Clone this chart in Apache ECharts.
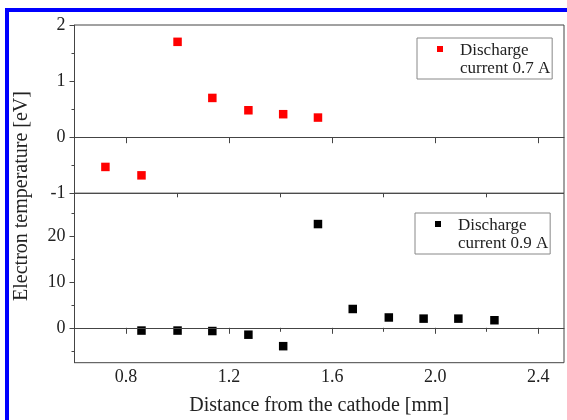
<!DOCTYPE html>
<html>
<head>
<meta charset="utf-8">
<script src="https://cdn.jsdelivr.net/npm/echarts@6/dist/echarts.min.js"></script>
<style>
  html, body { margin: 0; padding: 0; background: #fff; overflow: hidden; }
  #chart { position: absolute; left: 0; top: 0; width: 567px; height: 420px; }
  #frame { position: absolute; left: 5px; top: 8px; width: 700px; height: 700px;
           border-left: 4px solid #0000ff; border-top: 4px solid #0000ff; pointer-events: none; }
</style>
</head>
<body>
<div id="chart"></div>
<div id="frame"></div>
<script>
// ---- data ----
const xUpper = [0.72, 0.86, 1.00, 1.135, 1.275, 1.41, 1.545];
const yUpper = [-0.53, -0.68, 1.70, 0.70, 0.48, 0.41, 0.35];
const xLower = [0.86, 1.00, 1.135, 1.275, 1.41, 1.545, 1.68, 1.82, 1.955, 2.09, 2.23];
const yLower = [-0.6, -0.6, -0.7, -1.5, -4.0, 22.6, 4.1, 2.25, 2.0, 2.0, 1.65];

const xMajorTicks = [0.8, 1.2, 1.6, 2.0, 2.4];
const xMinorTicks = [1.0, 1.4, 1.8, 2.2];
const yLowerTicks = [0, 10, 20];
const yLowerMinorTicks = [-5, 5, 15, 25];

const nameUpper = 'Discharge\ncurrent 0.7 A';
const nameLower = 'Discharge\ncurrent 0.9 A';
const xTitle = 'Distance from the cathode [mm]';
const yTitle = 'Electron temperature [eV]';

const FONT = 'Liberation Serif';
const AX = '#444';
const TXT = '#222';

const chart = echarts.init(document.getElementById('chart'), null, { renderer: 'canvas' });

function xAxisMajor(grid, withLabels) {
  return {
    type: 'value', gridIndex: grid, position: 'bottom', min: 0.6, max: 2.5,
    axisLine: { show: true, lineStyle: { color: AX, width: 1 } },
    axisTick: { show: true, customValues: xMajorTicks, length: 6, inside: false, lineStyle: { color: AX } },
    axisLabel: withLabels ? {
      show: true, customValues: xMajorTicks, margin: 6,
      formatter: v => Number(v).toFixed(1),
      fontFamily: FONT, fontSize: 18, color: TXT
    } : { show: false },
    splitLine: { show: false },
    name: withLabels ? xTitle : '',
    nameLocation: 'middle', nameGap: 33,
    nameTextStyle: { fontFamily: FONT, fontSize: 20, color: TXT }
  };
}
function xAxisMinor(grid) {
  return {
    type: 'value', gridIndex: grid, position: 'bottom', offset: 0, min: 0.6, max: 2.5,
    axisLine: { show: false },
    axisTick: { show: true, customValues: xMinorTicks, length: 4, inside: false, lineStyle: { color: AX } },
    axisLabel: { show: false },
    splitLine: { show: false }
  };
}

const legendIcon = 'path://M0,0h6v6h-6z M0,28h0.01v0.01h-0.01z';
function legendOpt(name, left, top) {
  return {
    data: [name], left: left, top: top, orient: 'vertical',
    icon: legendIcon, itemWidth: 6, itemHeight: 28,
    padding: [4, 2, 1, 20],
    borderColor: '#888', borderWidth: 1, backgroundColor: '#fff',
    selectedMode: false,
    textStyle: { fontFamily: FONT, fontSize: 17, lineHeight: 18, color: TXT, padding: [0, 0, 0, 12] }
  };
}

const zeroLine = {
  silent: true, symbol: 'none', animation: false,
  label: { show: false },
  lineStyle: { color: AX, width: 1, type: 'solid' },
  data: [{ yAxis: 0 }]
};

const option = {
  animation: false,
  backgroundColor: '#fff',
  grid: [
    { left: 74.5, right: 3, top: 25, height: 168.3, show: true, borderColor: AX, borderWidth: 1, backgroundColor: 'transparent' },
    { left: 74.5, right: 3, top: 193.3, bottom: 57.3, show: true, borderColor: AX, borderWidth: 1, backgroundColor: 'transparent' }
  ],
  xAxis: [xAxisMajor(0, false), xAxisMinor(0), xAxisMajor(1, true), xAxisMinor(1)],
  yAxis: [
    {
      type: 'value', gridIndex: 0, position: 'left', min: -1, max: 2, interval: 1,
      axisLine: { show: true, lineStyle: { color: AX } },
      axisTick: { show: true, length: 5, lineStyle: { color: AX } },
      minorTick: { show: true, splitNumber: 2, length: 3, lineStyle: { color: AX } },
      axisLabel: { margin: 9, fontFamily: FONT, fontSize: 18, color: TXT },
      splitLine: { show: false }, minorSplitLine: { show: false }
    },
    {
      type: 'value', gridIndex: 1, position: 'left', min: -7.6, max: 29.3,
      axisLine: { show: true, lineStyle: { color: AX } },
      axisTick: { show: true, customValues: yLowerTicks, length: 5, lineStyle: { color: AX } },
      axisLabel: { customValues: yLowerTicks, margin: 9, fontFamily: FONT, fontSize: 18, color: TXT },
      splitLine: { show: false }
    },
    {
      type: 'value', gridIndex: 1, position: 'left', offset: 0, min: -7.6, max: 29.3,
      axisLine: { show: false },
      axisTick: { show: true, customValues: yLowerMinorTicks, length: 3, lineStyle: { color: AX } },
      axisLabel: { show: false },
      splitLine: { show: false }
    }
  ],
  legend: [legendOpt(nameUpper, 417, 38), legendOpt(nameLower, 415, 213)],
  graphic: [{
    type: 'text', x: 22, y: 196, rotation: Math.PI / 2, silent: true,
    style: { text: yTitle, font: '20px "' + FONT + '"', fill: TXT, align: 'center', verticalAlign: 'middle' }
  }],
  series: [
    {
      type: 'scatter', name: nameUpper, xAxisIndex: 0, yAxisIndex: 0,
      symbol: 'rect', symbolSize: 8.5,
      itemStyle: { color: '#ff0000', opacity: 1 },
      data: xUpper.map((x, i) => [x, yUpper[i]]),
      markLine: zeroLine
    },
    {
      type: 'scatter', name: nameLower, xAxisIndex: 2, yAxisIndex: 1,
      symbol: 'rect', symbolSize: 8.5,
      itemStyle: { color: '#000000', opacity: 1 },
      data: xLower.map((x, i) => [x, yLower[i]]),
      markLine: zeroLine
    }
  ]
};
chart.setOption(option);
</script>
</body>
</html>
